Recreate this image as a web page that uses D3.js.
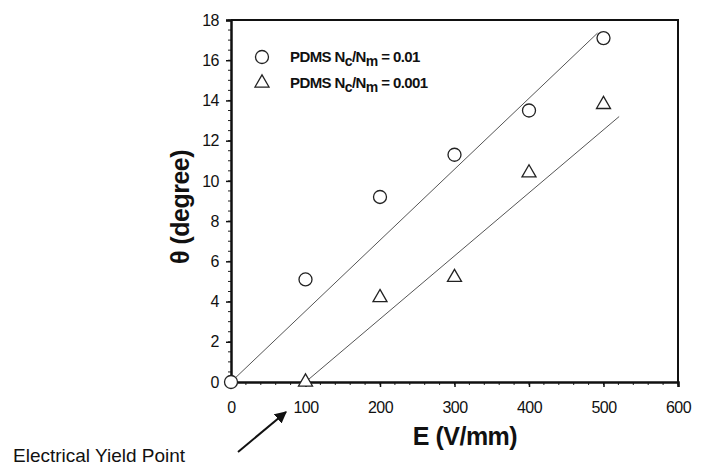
<!DOCTYPE html>
<html>
<head>
<meta charset="utf-8">
<script src="https://cdn.jsdelivr.net/npm/d3@7"></script>
<style>
  body { margin: 0; background: #fff; }
  text { font-family: "Liberation Sans", Arial, sans-serif; }
</style>
</head>
<body>
<div id="chart"></div>
<script>
var xTicks = [0, 100, 200, 300, 400, 500, 600],
  yTicks = [0, 2, 4, 6, 8, 10, 12, 14, 16, 18];

// PDMS Nc/Nm = 0.01 (circles)
var fieldA = [0, 100, 200, 300, 400, 500],
  angleA = [0, 5.1, 9.2, 11.3, 13.5, 17.1];
// PDMS Nc/Nm = 0.001 (triangles)
var fieldB = [100, 200, 300, 400, 500],
  angleB = [0, 4.2, 5.2, 10.4, 13.8];

// fitted lines (end points)
var fitA = [[0, 0], [492, 17.35]],
  fitB = [[100, 0], [521, 13.2]];

var w = 708, h = 471,
  pLeft = 231, pRight = 678, pTop = 20, pBottom = 382;

var svg = d3.select("#chart").append("svg")
  .attr("width", w)
  .attr("height", h);

var x = d3.scaleLinear().domain([0, 600]).range([pLeft, pRight]),
  y = d3.scaleLinear().domain([0, 18]).range([pBottom, pTop]);

// frame top/right
svg.append("path")
  .attr("d", "M" + pLeft + "," + pTop + "H" + pRight + "V" + pBottom)
  .attr("fill", "none")
  .attr("stroke", "#111")
  .attr("stroke-width", 2);

// minor ticks
var xMinor = d3.range(0, 601, 20), yMinor = d3.range(0, 18.01, 0.5);
svg.append("g").selectAll("line")
  .data(xMinor).enter().append("line")
  .attr("x1", function (d) { return x(d); })
  .attr("x2", function (d) { return x(d); })
  .attr("y1", pBottom).attr("y2", pBottom + 3)
  .attr("stroke", "#222").attr("stroke-width", 1);
svg.append("g").selectAll("line")
  .data(yMinor).enter().append("line")
  .attr("y1", function (d) { return y(d); })
  .attr("y2", function (d) { return y(d); })
  .attr("x1", pLeft).attr("x2", pLeft - 3)
  .attr("stroke", "#222").attr("stroke-width", 1);

// axes
var xAxis = svg.append("g")
  .attr("transform", "translate(0," + pBottom + ")")
  .call(d3.axisBottom(x).tickValues(xTicks).tickSize(5).tickPadding(15));
var yAxis = svg.append("g")
  .attr("transform", "translate(" + pLeft + ",0)")
  .call(d3.axisLeft(y).tickValues(yTicks).tickSize(5).tickPadding(7));

[xAxis, yAxis].forEach(function (a) {
  a.select(".domain").attr("stroke", "#111").attr("stroke-width", 2.5);
  a.selectAll(".tick line").attr("stroke", "#111").attr("stroke-width", 1.5);
  a.selectAll(".tick text")
    .attr("font-size", 16)
    .attr("fill", "#111")
    .attr("letter-spacing", -0.5)
    .attr("font-family", "'Liberation Sans', Arial, sans-serif");
});

// fit lines
var line = d3.line()
  .x(function (d) { return x(d[0]); })
  .y(function (d) { return y(d[1]); });
[fitA, fitB].forEach(function (f) {
  svg.append("path")
    .attr("d", line(f))
    .attr("fill", "none")
    .attr("stroke", "#555")
    .attr("stroke-width", 1);
});

// markers
svg.append("g").selectAll("circle")
  .data(fieldA).enter().append("circle")
  .attr("cx", function (d) { return x(d); })
  .attr("cy", function (d, i) { return y(angleA[i]); })
  .attr("r", 6.5)
  .attr("fill", "#fff")
  .attr("stroke", "#222")
  .attr("stroke-width", 1.3);

var tri = d3.symbol().type(d3.symbolTriangle).size(85);
svg.append("g").selectAll("path")
  .data(fieldB).enter().append("path")
  .attr("d", tri)
  .attr("transform", function (d, i) { return "translate(" + x(d) + "," + y(angleB[i]) + ")"; })
  .attr("fill", "#fff")
  .attr("stroke", "#222")
  .attr("stroke-width", 1.3);

// legend
var legend = svg.append("g");
legend.append("circle")
  .attr("cx", 262).attr("cy", 57).attr("r", 6.5)
  .attr("fill", "#fff").attr("stroke", "#222").attr("stroke-width", 1.3);
legend.append("path")
  .attr("d", tri)
  .attr("transform", "translate(262,83)")
  .attr("fill", "#fff").attr("stroke", "#222").attr("stroke-width", 1.3);

var legendText = [["0.01", 62], ["0.001", 88]];
legendText.forEach(function (t) {
  var txt = legend.append("text")
    .attr("x", 290).attr("y", t[1])
    .attr("font-size", 15)
    .attr("font-weight", "bold")
    .attr("letter-spacing", -0.6)
    .attr("fill", "#111");
  txt.append("tspan").text("PDMS N");
  txt.append("tspan").attr("baseline-shift", "-30%").attr("font-size", 14).text("c");
  txt.append("tspan").text("/N");
  txt.append("tspan").attr("baseline-shift", "-30%").attr("font-size", 14).text("m");
  txt.append("tspan").text(" = " + t[0]);
});

// axis titles
svg.append("text")
  .attr("x", 465).attr("y", 445)
  .attr("text-anchor", "middle")
  .attr("font-size", 25)
  .attr("font-weight", "bold")
  .attr("letter-spacing", -0.5)
  .attr("fill", "#111")
  .text("E (V/mm)");

svg.append("text")
  .attr("transform", "translate(189,207) rotate(-90)")
  .attr("text-anchor", "middle")
  .attr("font-size", 25)
  .attr("font-weight", "bold")
  .attr("letter-spacing", -0.5)
  .attr("fill", "#111")
  .text("θ (degree)");

// annotation
svg.append("defs").append("marker")
  .attr("id", "head")
  .attr("viewBox", "0 0 10 10")
  .attr("refX", 9).attr("refY", 5)
  .attr("markerWidth", 6).attr("markerHeight", 6)
  .attr("orient", "auto")
  .append("path")
  .attr("d", "M0,0L10,5L0,10z")
  .attr("fill", "#111");

svg.append("line")
  .attr("x1", 238).attr("y1", 452)
  .attr("x2", 286).attr("y2", 412)
  .attr("stroke", "#111")
  .attr("stroke-width", 2)
  .attr("marker-end", "url(#head)");

svg.append("text")
  .attr("x", 13).attr("y", 462)
  .attr("font-size", 19)
  .attr("fill", "#111")
  .text("Electrical Yield Point");
</script>
</body>
</html>
